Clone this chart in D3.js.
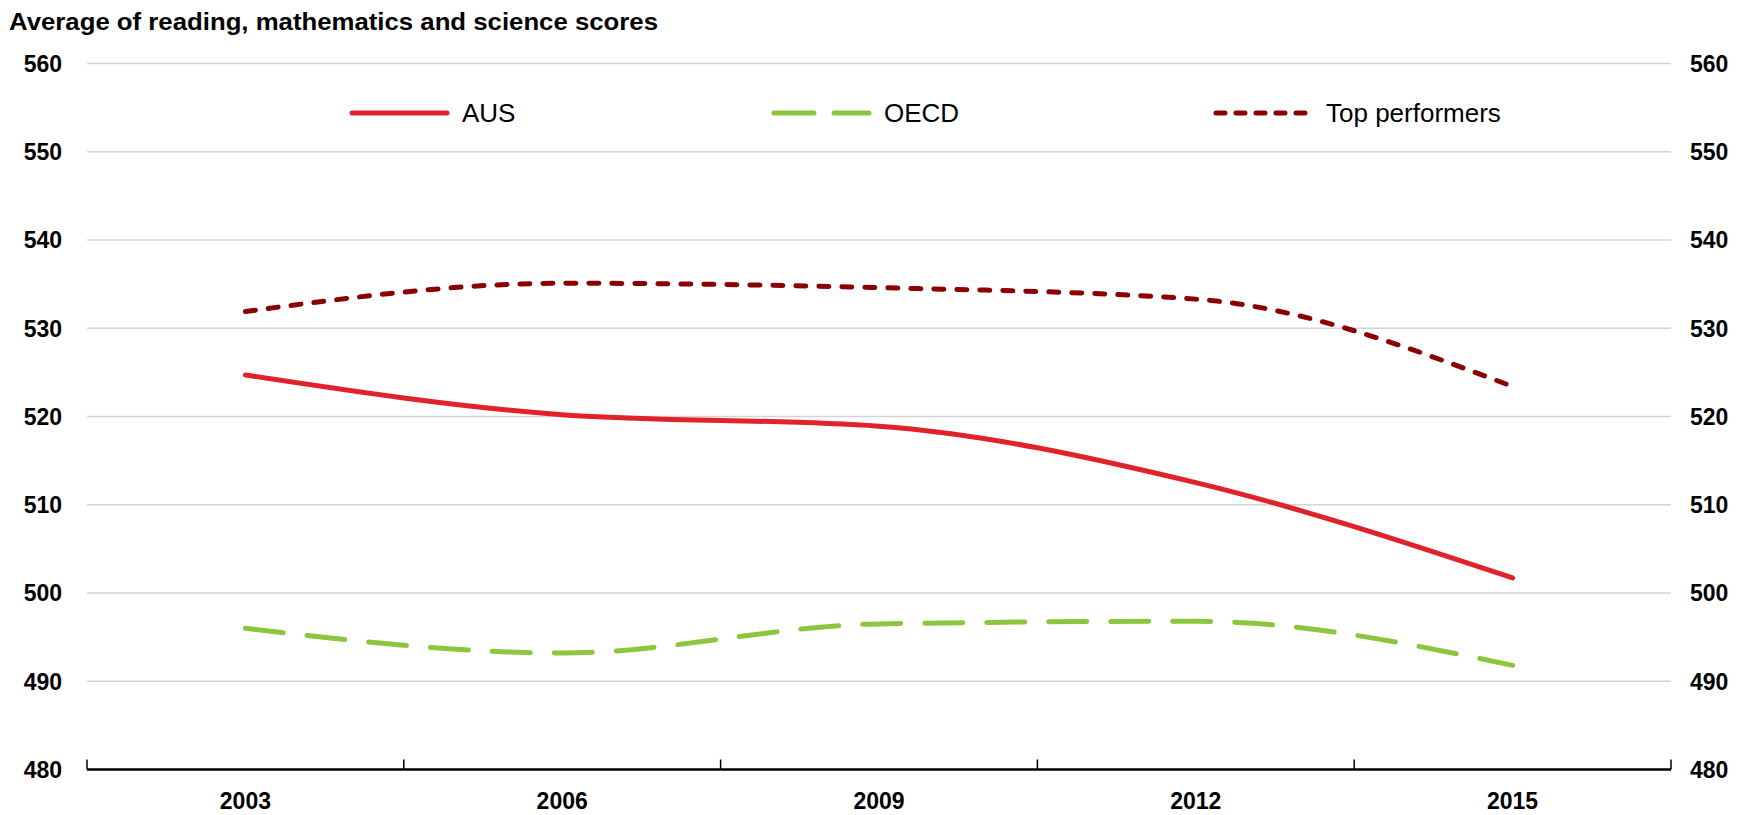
<!DOCTYPE html>
<html>
<head>
<meta charset="utf-8">
<script src="https://cdn.jsdelivr.net/npm/d3@7"></script>
<style>
  body { margin: 0; background: #fff; }
  svg text { font-family: "Liberation Sans", Arial, sans-serif; fill: #000; }
</style>
</head>
<body>
<svg id="chart"></svg>
<script>
// values
let years = ["2003", "2006", "2009", "2012", "2015"];
let ausScores = [524.7, 520.2, 518.9, 512.5, 501.7];
let oecdScores = [496.0, 493.2, 496.5, 496.8, 491.8];
let topScores = [531.9, 535.1, 534.6, 533.3, 523.4];
let yTicks = [480, 490, 500, 510, 520, 530, 540, 550, 560];
let seriesNames = ["AUS", "OECD", "Top performers"];

let width = 1755, height = 815;
let margin = {top: 63.5, right: 84, bottom: 45.5, left: 87};

let svg = d3.select("#chart")
    .attr("width", width)
    .attr("height", height);

let x = d3.scaleBand()
    .domain(years)
    .range([margin.left, width - margin.right])
    .padding(0);

let y = d3.scaleLinear()
    .domain([480, 560])
    .range([height - margin.bottom, margin.top]);

// gridlines
svg.append("g")
    .selectAll("line")
    .data(yTicks.filter(d => d > 480))
    .enter().append("line")
    .attr("x1", margin.left)
    .attr("x2", width - margin.right)
    .attr("y1", d => y(d))
    .attr("y2", d => y(d))
    .attr("stroke", "#d4d4d4")
    .attr("stroke-width", 1.6);

// left and right value labels
svg.append("g")
    .selectAll("text")
    .data(yTicks)
    .enter().append("text")
    .attr("x", 62)
    .attr("y", d => y(d))
    .attr("dy", "0.36em")
    .attr("text-anchor", "end")
    .style("font-size", "23px")
    .style("font-weight", "bold")
    .text(d => d);

svg.append("g")
    .selectAll("text")
    .data(yTicks)
    .enter().append("text")
    .attr("x", 1690)
    .attr("y", d => y(d))
    .attr("dy", "0.36em")
    .attr("text-anchor", "start")
    .style("font-size", "23px")
    .style("font-weight", "bold")
    .text(d => d);

// bottom axis: line, upward ticks at band edges, year labels
let axisY = y(480);
let edges = years.map(d => x(d)).concat([x(years[years.length - 1]) + x.bandwidth()]);

svg.append("line")
    .attr("x1", margin.left)
    .attr("x2", width - margin.right)
    .attr("y1", axisY)
    .attr("y2", axisY)
    .attr("stroke", "#000")
    .attr("stroke-width", 2.5);

svg.append("g")
    .selectAll("line")
    .data(edges)
    .enter().append("line")
    .attr("x1", d => d)
    .attr("x2", d => d)
    .attr("y1", axisY)
    .attr("y2", axisY - 10)
    .attr("stroke", "#000")
    .attr("stroke-width", 1.5);

svg.append("g")
    .selectAll("text")
    .data(years)
    .enter().append("text")
    .attr("x", d => x(d) + x.bandwidth() / 2)
    .attr("y", axisY + 39)
    .attr("text-anchor", "middle")
    .style("font-size", "23px")
    .style("font-weight", "bold")
    .text(d => d);

// title
svg.append("text")
    .attr("x", 9)
    .attr("y", 30)
    .attr("textLength", 649)
    .attr("lengthAdjust", "spacingAndGlyphs")
    .style("font-size", "23px")
    .style("font-weight", "bold")
    .text("Average of reading, mathematics and science scores");

// series
let series = [
  {name: seriesNames[0], values: ausScores, color: "#e0222b", dash: null, width: 5, cap: "round"},
  {name: seriesNames[1], values: oecdScores, color: "#8cc63f", dash: "38,24", width: 5, cap: "round"},
  {name: seriesNames[2], values: topScores, color: "#8b0000", dash: "10,13", width: 5, cap: "round"}
];

let line = d3.line()
    .x((d, i) => x(years[i]) + x.bandwidth() / 2)
    .y(d => y(d))
    .curve(d3.curveMonotoneX);

svg.append("g")
    .selectAll("path")
    .data(series)
    .enter().append("path")
    .attr("d", d => line(d.values))
    .attr("fill", "none")
    .attr("stroke", d => d.color)
    .attr("stroke-width", d => d.width)
    .attr("stroke-linecap", d => d.cap)
    .attr("stroke-dasharray", d => d.dash);

// legend
let legendX = [350, 772, 1214];
let legendY = 113;

let legend = svg.append("g")
    .selectAll("g")
    .data(series)
    .enter().append("g")
    .attr("transform", (d, i) => "translate(" + legendX[i] + "," + legendY + ")");

legend.append("line")
    .attr("x1", 2)
    .attr("x2", 97)
    .attr("y1", 0)
    .attr("y2", 0)
    .attr("stroke", d => d.color)
    .attr("stroke-width", d => d.width)
    .attr("stroke-linecap", d => d.cap)
    .attr("stroke-dasharray", (d, i) => i == 1 ? "40,20" : (i == 2 ? "9,11" : null));

legend.append("text")
    .attr("x", 112)
    .attr("y", 0)
    .attr("dy", "0.36em")
    .style("font-size", "26px")
    .text(d => d.name);
</script>
</body>
</html>
